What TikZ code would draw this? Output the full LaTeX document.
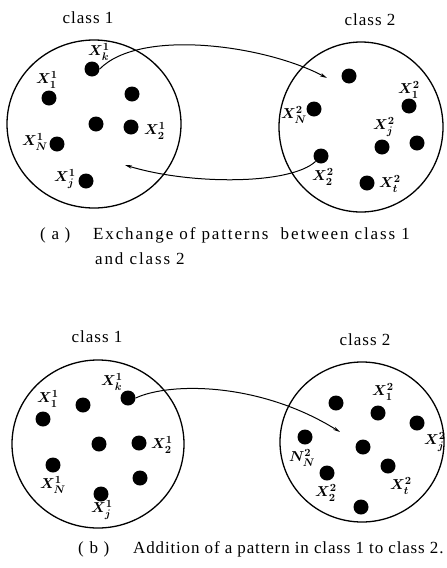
\documentclass[tikz,border=0pt]{standalone}
\usepackage{fontspec}
\setmainfont{Liberation Serif}
\usetikzlibrary{arrows.meta}
\begin{document}
\begin{tikzpicture}[x=1pt,y=-1pt,
  dot/.style={circle,fill=black,inner sep=0pt,minimum size=15pt},
  lab/.style={inner sep=0pt,font=\fontsize{15}{17}\selectfont\boldmath},
  clsname/.style={anchor=base,inner sep=0pt,font=\fontsize{17}{19}\selectfont\addfontfeature{LetterSpace=6}},
  capt/.style={anchor=base west,inner sep=0pt,font=\fontsize{17}{19}\selectfont\addfontfeature{LetterSpace=11}},
  capb/.style={anchor=base west,inner sep=0pt,font=\fontsize{17}{19}\selectfont\addfontfeature{LetterSpace=5}},
  ring/.style={line width=1.3pt},
  arr/.style={line width=1pt,-{Stealth[length=7pt,width=3.5pt]}}]
\useasboundingbox (0,0) rectangle (447,568);
\fill[white] (0,0) rectangle (447,568);

% ---------- panel (a) ----------
\node[clsname] (c1a) at (88,23) {class 1};
\node[clsname] (c2a) at (370,25) {class 2};
\draw[ring] (94,124) ellipse [x radius=87pt, y radius=84pt];
\draw[ring] (361,127) ellipse [x radius=82pt, y radius=85pt];

\node[dot] (ak) at (92,69) {};
\node[dot] (a11) at (49,98) {};
\node[dot] (au1) at (132,94) {};
\node[dot] (au2) at (96,124) {};
\node[dot] (a12) at (131,127) {};
\node[dot] (a1n) at (57,144) {};
\node[dot] (a1j) at (86,181) {};

\node[lab] (lak) at (99,52) {$X^{1}_{k}$};
\node[lab] (la11) at (47,80) {$X^{1}_{1}$};
\node[lab] (la12) at (155,131) {$X^{1}_{2}$};
\node[lab] (la1n) at (35,142) {$X^{1}_{N}$};
\node[lab] (la1j) at (65,179) {$X^{1}_{j}$};

\node[dot] (av1) at (349,76) {};
\node[dot] (a21) at (409,106) {};
\node[dot] (a2n) at (314,109) {};
\node[dot] (a2j) at (382,147) {};
\node[dot] (av2) at (417,143) {};
\node[dot] (a22) at (321,156) {};
\node[dot] (a2t) at (367,183) {};

\node[lab] (la21) at (409,90) {$X^{2}_{1}$};
\node[lab] (la2n) at (294,115) {$X^{2}_{N}$};
\node[lab] (la2j) at (384,127) {$X^{2}_{j}$};
\node[lab] (la22) at (323,177) {$X^{2}_{2}$};
\node[lab] (la2t) at (390,184) {$X^{2}_{t}$};

\coordinate (ta) at (327,78);
\coordinate (tb) at (125,165);
\draw[arr] (ak.east) .. controls (140,28) and (265,45) .. (ta);
\draw[arr] (a22.south west) .. controls (290,185) and (190,185) .. (tb);

\node[capt] (pa) at (40,239) {(\,\,a\,\,)};
\node[capt] (ca1) at (93,239) {Exchange of patterns \ between class 1};
\node[capt] (ca2) at (95,264) {and class 2};

% ---------- panel (b) ----------
\node[clsname] (c1b) at (97,342) {class 1};
\node[clsname] (c2b) at (365,345) {class 2};
\draw[ring] (98,444) ellipse [x radius=86pt, y radius=84pt];
\draw[ring] (362,442) ellipse [x radius=82pt, y radius=80pt];

\node[dot] (bu1) at (83,405) {};
\node[dot] (bk) at (128,398) {};
\node[dot] (b11) at (43,419) {};
\node[dot] (bu2) at (99,444) {};
\node[dot] (b12) at (139,443) {};
\node[dot] (b1n) at (53,465) {};
\node[dot] (bu3) at (140,478) {};
\node[dot] (b1j) at (101,494) {};

\node[lab] (lbk) at (112,382) {$X^{1}_{k}$};
\node[lab] (lb11) at (48,399) {$X^{1}_{1}$};
\node[lab] (lb12) at (162,445) {$X^{1}_{2}$};
\node[lab] (lb1n) at (53,485) {$X^{1}_{N}$};
\node[lab] (lb1j) at (102,510) {$X^{1}_{j}$};

\node[dot] (bv1) at (336,403) {};
\node[dot] (b21) at (378,413) {};
\node[dot] (b2j) at (417,423) {};
\node[dot] (b2n) at (305,437) {};
\node[dot] (bv2) at (363,447) {};
\node[dot] (b2t) at (388,466) {};
\node[dot] (b22) at (327,473) {};
\node[dot] (bv3) at (361,507) {};

\node[lab] (lb21) at (383,392) {$X^{2}_{1}$};
\node[lab] (lb2j) at (435,442) {$X^{2}_{j}$};
\node[lab] (lb2n) at (302,458) {$N^{2}_{N}$};
\node[lab] (lb2t) at (401,486) {$X^{2}_{t}$};
\node[lab] (lb22) at (326,493) {$X^{2}_{2}$};

\coordinate (tc) at (340,432);
\draw[arr] (bk.east) .. controls (170,382) and (260,382) .. (tc);

\node[capb] (pb) at (78,553) {(\,\,b\,\,)};
\node[capb] (cb) at (133,553) {Addition of a pattern in class 1 to class 2.};
\end{tikzpicture}
\end{document}
